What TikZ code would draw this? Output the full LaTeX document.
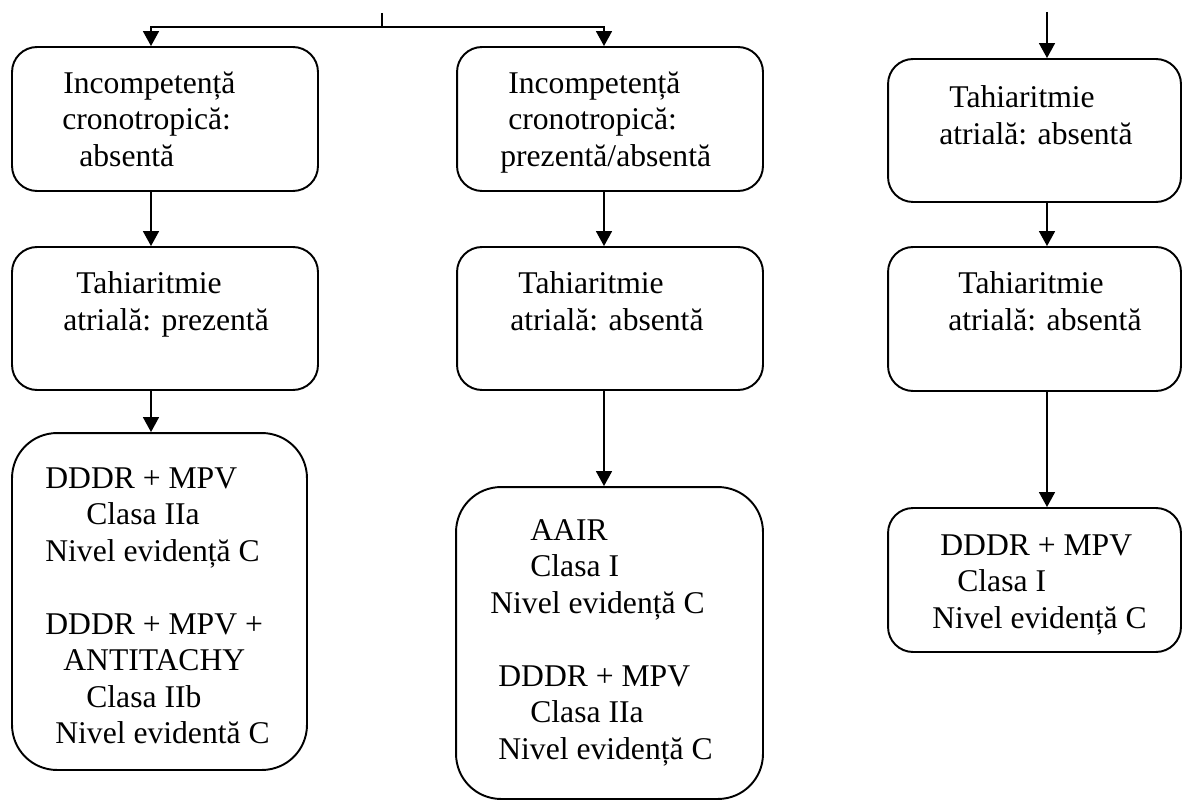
\documentclass[tikz,border=0pt]{standalone}
\usepackage{fontspec}
\setmainfont{Liberation Serif}
\usepackage{tikz}
\usetikzlibrary{positioning,arrows.meta}

\begin{document}
\begin{tikzpicture}[x=0.02cm, y=-0.02cm,
    box/.style={rectangle, draw, rounded corners=0.5cm, line width=1.1pt, inner sep=0pt},
    bigbox/.style={box, rounded corners=0.9cm},
    txt/.style={anchor=north west, align=left, inner sep=0pt, font=\fontsize{18}{20.8}\selectfont},
    arr/.style={-{Triangle[length=0.3cm, width=0.32cm]}, line width=0.95pt},
    line/.style={line width=0.95pt}
]
\useasboundingbox (0,0) rectangle (1182,800);

% Left column
\node[box, minimum width=6.12cm, minimum height=2.88cm] (l1) at (165,119) {};
\node[txt] (l1t) at (62,71.5) {\hspace*{0.02cm}Incompetență\\cronotropică:\\\hspace*{0.34cm}absentă};
\node[box, minimum width=6.12cm, minimum height=2.86cm] (l2) at (165,318.5) {};
\node[txt] (l2t) at (63,271.5) {\hspace*{0.26cm}Tahiaritmie\\atrială: prezentă};
\node[bigbox, minimum width=5.9cm, minimum height=6.74cm] (l3) at (159.5,601.5) {};
\node[txt] (l3t) at (45,467) {DDDR + MPV\\\hspace*{0.82cm}Clasa IIa\\Nivel evidență C\\[20.8pt]DDDR + MPV +\\\hspace*{0.36cm}ANTITACHY\\\hspace*{0.82cm}Clasa IIb\\\hspace*{0.2cm}Nivel evidentă C};

% Middle column
\node[box, minimum width=6.12cm, minimum height=2.88cm] (m1) at (610,119) {};
\node[txt] (m1t) at (500,71.5) {\hspace*{0.16cm}Incompetență\\\hspace*{0.16cm}cronotropică:\\prezentă/absentă};
\node[box, minimum width=6.12cm, minimum height=2.86cm] (m2) at (610,318.5) {};
\node[txt] (m2t) at (510,271.5) {\hspace*{0.16cm}Tahiaritmie\\atrială: absentă};
\node[bigbox, minimum width=6.14cm, minimum height=6.24cm] (m3) at (609.5,643) {};
\node[txt] (m3t) at (490,519) {\hspace*{0.8cm}AAIR\\\hspace*{0.8cm}Clasa I\\Nivel evidență C\\[20.8pt]\hspace*{0.16cm}DDDR + MPV\\\hspace*{0.8cm}Clasa IIa\\\hspace*{0.16cm}Nivel evidență C};

% Right column
\node[box, minimum width=5.86cm, minimum height=2.86cm] (r1) at (1034.5,130.5) {};
\node[txt] (r1t) at (939,85.5) {\hspace*{0.2cm}Tahiaritmie\\atrială: absentă};
\node[box, minimum width=5.86cm, minimum height=2.88cm] (r2) at (1034.5,319) {};
\node[txt] (r2t) at (948,271.5) {\hspace*{0.2cm}Tahiaritmie\\atrială: absentă};
\node[box, minimum width=5.86cm, minimum height=2.88cm] (r3) at (1034.5,580) {};
\node[txt] (r3t) at (932,534) {\hspace*{0.16cm}DDDR + MPV\\\hspace*{0.5cm}Clasa I\\Nivel evidență C};

% Connectors
\coordinate (lx) at (151,0);
\coordinate (mx) at (604,0);
\coordinate (top) at (382,13);
\coordinate (split) at (382,27);
\coordinate (rtop) at (1047,12);
\draw[line] (top) -- (split);
\draw[arr] (split) -| (l1.north -| lx);
\draw[arr] (split) -| (m1.north -| mx);
\draw[arr] (rtop) -- (r1.north -| rtop);
\draw[arr] (l1.south -| lx) -- (l2.north -| lx);
\draw[arr] (l2.south -| lx) -- (l3.north -| lx);
\draw[arr] (m1.south -| mx) -- (m2.north -| mx);
\draw[arr] (m2.south -| mx) -- (m3.north -| mx);
\draw[arr] (r1.south -| rtop) -- (r2.north -| rtop);
\draw[arr] (r2.south -| rtop) -- (r3.north -| rtop);

\end{tikzpicture}
\end{document}
